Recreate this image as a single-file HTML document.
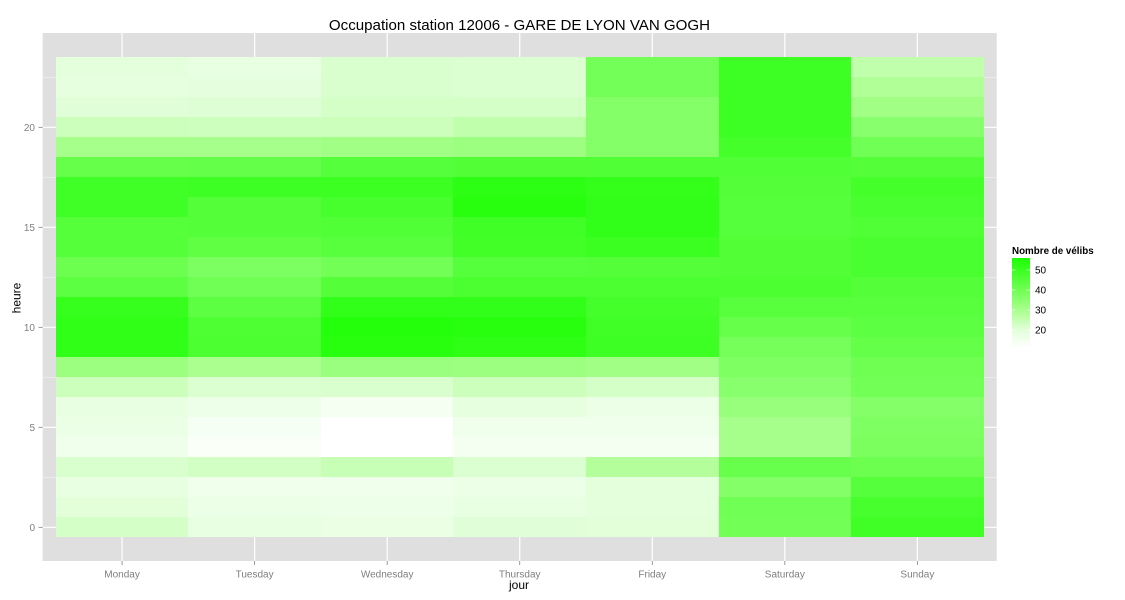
<!DOCTYPE html>
<html lang="en">
<head>
<meta charset="utf-8">
<title>Occupation station 12006 - GARE DE LYON VAN GOGH</title>
<style>
  html, body { margin: 0; padding: 0; background: #ffffff; }
  svg { display: block; font-family: "Liberation Sans", sans-serif; }
</style>
</head>
<body>
<svg id="chart" width="1125" height="600" viewBox="0 0 1125 600" xmlns="http://www.w3.org/2000/svg">
  <rect x="0" y="0" width="1125" height="600" fill="#ffffff"/>
  <rect x="42.7" y="33" width="954" height="528" fill="#dfdfdf"/>
  <g id="grid"></g>
  <g id="cells" shape-rendering="crispEdges"></g>
  <g id="x-axis"></g>
  <g id="y-axis"></g>
  <text x="519.5" y="30" text-anchor="middle" font-size="15.1" fill="#000000">Occupation station 12006 - GARE DE LYON VAN GOGH</text>
  <text x="519" y="589" text-anchor="middle" font-size="12" fill="#000000">jour</text>
  <text transform="translate(20.5,298) rotate(-90)" text-anchor="middle" font-size="12" fill="#000000">heure</text>
  <g id="legend">
    <text x="1012" y="254" font-size="9.8" font-weight="bold" fill="#000000">Nombre de vélibs</text>
    <g id="legend-bar" shape-rendering="crispEdges"></g>
    <g id="legend-ticks"></g>
  </g>
</svg>
<script>
// Data: one array per day, index 0 = hour 0 ... index 23 = hour 23
const days = ["Monday", "Tuesday", "Wednesday", "Thursday", "Friday", "Saturday", "Sunday"];
const monday = [22.4, 20, 18.1, 21.7, 15.7, 17.2, 18.1, 23.8, 32.1, 52, 52, 50.6, 43.7, 40.7, 45, 45, 48.9, 48.9, 41.9, 30.4, 23.8, 20.3, 18.8, 19.4];
const tuesday = [18.1, 16.9, 15.7, 22.8, 12.6, 13.8, 16.3, 21, 29.7, 46.7, 46.3, 43.7, 40, 37.9, 43, 45.2, 45.2, 49.3, 42.2, 30.4, 23.6, 20.7, 19.1, 18.1];
const wednesday = [17.5, 16.3, 15.7, 24.5, 11, 11, 14.1, 21.7, 32.5, 53.6, 54.4, 51.6, 45.2, 39.7, 44.4, 45.9, 47.4, 49.6, 44.8, 31.4, 23.8, 22.4, 21.7, 21.4];
const thursday = [20.3, 18.1, 16.9, 21, 14.4, 15.7, 18.8, 23.8, 32.1, 52.4, 53.6, 51.6, 46.7, 44.8, 48.5, 48.9, 53.6, 52.8, 45.6, 32.1, 25.9, 22.4, 21, 21];
const friday = [20, 19.4, 19.4, 27.9, 14.4, 15.7, 16.9, 22.4, 31.1, 49.3, 48.9, 48.1, 46.7, 45.2, 50, 51.6, 51.6, 51.2, 45.9, 36.4, 36.4, 36.4, 39.3, 39.3];
const saturday = [39.6, 40, 36.4, 41.5, 30.4, 30.4, 32.9, 35.7, 37.5, 38.9, 41.9, 44.4, 46.7, 45.6, 45.6, 44.8, 44.8, 45.2, 45.9, 48.1, 49.3, 49.3, 49.3, 49.3];
const sunday = [48.9, 47.4, 44.8, 40.7, 38.2, 37.5, 36.4, 39.6, 40.4, 42.2, 43.7, 44.4, 45.2, 47, 47, 45.9, 47, 48.1, 45.2, 40, 35.7, 31.4, 28.6, 25.9];
const series = [monday, tuesday, wednesday, thursday, friday, saturday, sunday];
const hourTicks = [0, 5, 10, 15, 20];
const hourMinorTicks = [2.5, 7.5, 12.5, 17.5, 22.5];
const legendTicks = [20, 30, 40, 50];
const legendMin = 11;
const legendMax = 56;

const NS = "http://www.w3.org/2000/svg";

// Axis functions
const colLeft = 55.8;
const colWidth = 132.55;
function xScale(i) { return colLeft + colWidth * i; }
function xCenter(i) { return xScale(i) + colWidth / 2; }
function yScale(h) { return 527.3 - 20 * h; }
function legendY(v) { return 270 + (50 - v) * 2; }

// Colour scale: value -> colour
const rampV = [11, 20, 30, 40, 50, 56];
const rampR = [255, 226, 168, 112, 58, 28];
const rampB = [255, 218, 140, 84, 32, 4];
function fillFor(v) {
  let k = 0;
  while (k < rampV.length - 2 && v > rampV[k + 1]) k++;
  let f = (v - rampV[k]) / (rampV[k + 1] - rampV[k]);
  f = Math.max(0, Math.min(1, f));
  const r = Math.round(rampR[k] + (rampR[k + 1] - rampR[k]) * f);
  const b = Math.round(rampB[k] + (rampB[k + 1] - rampB[k]) * f);
  return "rgb(" + r + ",255," + b + ")";
}

function make(tag, attrs, parent) {
  const el = document.createElementNS(NS, tag);
  for (const key in attrs) el.setAttribute(key, attrs[key]);
  parent.appendChild(el);
  return el;
}

const grid = document.getElementById("grid");
const cells = document.getElementById("cells");
const xAxis = document.getElementById("x-axis");
const yAxis = document.getElementById("y-axis");
const legendBar = document.getElementById("legend-bar");
const legendTicksGroup = document.getElementById("legend-ticks");

// Grid lines
hourMinorTicks.forEach(function (h) {
  const el = make("line", { x1: 42.7, x2: 996.7, y1: yScale(h), y2: yScale(h), stroke: "#f0f0f0", "stroke-width": 0.7 }, grid);
  
  
});
hourTicks.forEach(function (h) {
  const el = make("line", { x1: 42.7, x2: 996.7, y1: yScale(h), y2: yScale(h), stroke: "#ffffff", "stroke-width": 1.2 }, grid);
  
  
});
days.forEach(function (d, i) {
  const el = make("line", { x1: xCenter(i), x2: xCenter(i), y1: 33, y2: 561, stroke: "#ffffff", "stroke-width": 1.2 }, grid);
  
  
});

// Heatmap cells
series.forEach(function (values, i) {
  values.forEach(function (v, h) {
    const top = Math.round(yScale(h + 0.5));
    const bottom = Math.round(yScale(h - 0.5));
    const left = Math.round(xScale(i));
    const right = Math.round(xScale(i + 1));
    const el = make("rect", { x: left, y: top, width: right - left, height: bottom - top, fill: fillFor(v) }, cells);
    
    
  });
});

// X axis
days.forEach(function (d, i) {
  const tick = make("line", { x1: xCenter(i), x2: xCenter(i), y1: 561, y2: 565, stroke: "#7f7f7f", "stroke-width": 0.8 }, xAxis);
  
  
  const label = make("text", { x: xCenter(i), y: 577.5, "text-anchor": "middle", "font-size": 10, fill: "#7f7f7f" }, xAxis);
  
  
  label.textContent = d;
});

// Y axis
hourTicks.forEach(function (h) {
  const tick = make("line", { x1: 38.5, x2: 42.7, y1: yScale(h), y2: yScale(h), stroke: "#7f7f7f", "stroke-width": 0.8 }, yAxis);
  
  
  const label = make("text", { x: 35, y: yScale(h) + 3.6, "text-anchor": "end", "font-size": 10, fill: "#7f7f7f" }, yAxis);
  
  
  label.textContent = h;
});

// Legend colour bar
for (let px = legendY(legendMax); px < legendY(legendMin); px++) {
  const v = 50 - (px + 0.5 - 270) / 2;
  const el = make("rect", { x: 1012, y: px, width: 18, height: 1, fill: fillFor(v) }, legendBar);
  
  
}
legendTicks.forEach(function (v) {
  const t1 = make("line", { x1: 1012, x2: 1015.6, y1: legendY(v), y2: legendY(v), stroke: "#ffffff", "stroke-width": 0.6 }, legendTicksGroup);
  
  
  const t2 = make("line", { x1: 1026.4, x2: 1030, y1: legendY(v), y2: legendY(v), stroke: "#ffffff", "stroke-width": 0.6 }, legendTicksGroup);
  
  
  const label = make("text", { x: 1035, y: legendY(v) + 3.6, "font-size": 10, fill: "#000000" }, legendTicksGroup);
  
  
  label.textContent = v;
});
</script>
</body>
</html>
